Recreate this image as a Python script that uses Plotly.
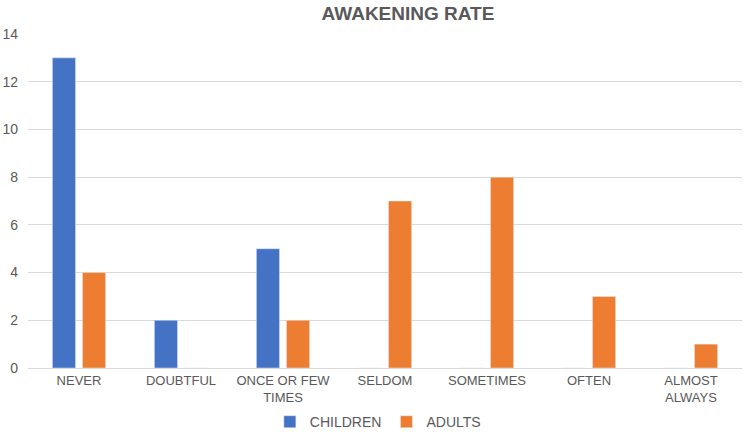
import plotly.graph_objects as go

categories = ["NEVER", "DOUBTFUL", "ONCE OR FEW<br>TIMES", "SELDOM", "SOMETIMES", "OFTEN", "ALMOST<br>ALWAYS"]
children = [13, 2, 5, 0, 0, 0, 0]
adults = [4, 0, 2, 7, 8, 3, 1]
y_ticks = [0, 2, 4, 6, 8, 10, 12, 14]

font_family = "Liberation Sans, Arial, sans-serif"
text_color = "#595959"

fig = go.Figure()
fig.add_trace(go.Bar(x=categories, y=children, name="CHILDREN", marker_color="#4472C4"))
fig.add_trace(go.Bar(x=categories, y=adults, name="ADULTS", marker_color="#ED7D31"))

fig.update_layout(
    width=750, height=432,
    margin=dict(l=28, r=8, t=34, b=64, autoexpand=False),
    paper_bgcolor="white", plot_bgcolor="white",
    barmode="group", bargap=0.41, bargroupgap=0.23,
    font=dict(family=font_family, color=text_color, size=13),
    title=dict(text="<b>AWAKENING RATE</b>", x=0.544, xanchor="center", y=0.968, yanchor="middle",
               font=dict(size=19, color=text_color, family=font_family)),
    legend=dict(orientation="h", x=0.49, xanchor="center", y=-0.162, yanchor="middle",
                font=dict(size=14, color=text_color), itemwidth=30, traceorder="normal"),
    xaxis=dict(showgrid=False, showline=True, linecolor="#d9d9d9", linewidth=1, ticks="",
               automargin=False, tickfont=dict(size=13, color=text_color)),
    yaxis=dict(range=[0, 14], tickvals=y_ticks, showgrid=True, gridcolor="#d9d9d9", gridwidth=1,
               automargin=False, zeroline=False, showline=False, ticks="", ticklabelstandoff=9,
               tickfont=dict(size=14, color=text_color)),
)

fig.write_html("out.html", post_script="document.body.style.margin='0';",
               config={"displayModeBar": False})
